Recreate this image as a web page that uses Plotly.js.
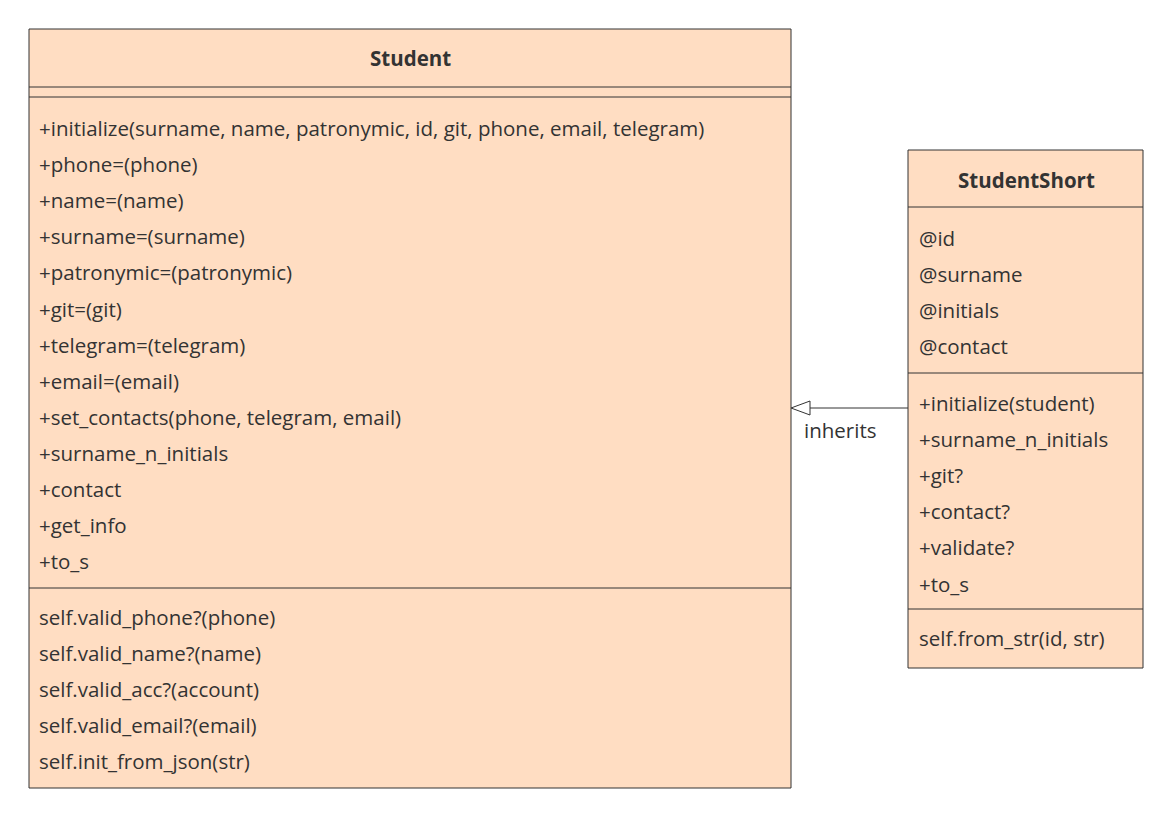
<!DOCTYPE html>
<html>
<head>
<meta charset="utf-8">
<script src="https://cdn.plot.ly/plotly-3.0.1.min.js"></script>
<style>html,body{margin:0;padding:0;background:#fff}</style>
</head>
<body>
<div id="chart" style="width:1172px;height:817px"></div>
<script>
var studentTitle = "Student";
var studentMethods = ["+initialize(surname, name, patronymic, id, git, phone, email, telegram)",
  "+phone=(phone)", "+name=(name)", "+surname=(surname)", "+patronymic=(patronymic)",
  "+git=(git)", "+telegram=(telegram)", "+email=(email)",
  "+set_contacts(phone, telegram, email)", "+surname_n_initials", "+contact",
  "+get_info", "+to_s"];
var studentStatic = ["self.valid_phone?(phone)", "self.valid_name?(name)",
  "self.valid_acc?(account)", "self.valid_email?(email)", "self.init_from_json(str)"];

var shortTitle = "StudentShort";
var shortAttrs = ["@id", "@surname", "@initials", "@contact"];
var shortMethods = ["+initialize(student)", "+surname_n_initials", "+git?",
  "+contact?", "+validate?", "+to_s"];
var shortStatic = ["self.from_str(id, str)"];

var relationLabel = "inherits";

var fill = "#FFDDC2", edge = "#333333", txt = "#333333";
var font = {family: "Open Sans, Arial, sans-serif", size: 20.5, color: txt};
var row = 36.1;

var shapes = [];
var annotations = [];

function box(x0, y0, x1, y1) {
  shapes.push({type: "rect", x0: x0, y0: y0, x1: x1, y1: y1,
    fillcolor: fill, line: {color: edge, width: 1}, layer: "below"});
}
function hline(x0, x1, y) {
  shapes.push({type: "line", x0: x0, x1: x1, y0: y, y1: y, line: {color: edge, width: 1}});
}
function lines(list, x, y0) {
  list.forEach(function (s, i) {
    annotations.push({text: s, x: x, y: y0 + i * row, xanchor: "left", yanchor: "middle",
      showarrow: false, font: font});
  });
}
function title(s, x, y) {
  annotations.push({text: "<b>" + s + "</b>", x: x, y: y, xanchor: "center", yanchor: "middle",
    showarrow: false, font: font});
}

// Student
box(29, 29, 791, 788);
hline(29, 791, 87);
hline(29, 791, 97);
hline(29, 791, 588);
title(studentTitle, 410, 58);
lines(studentMethods, 37, 128);
lines(studentStatic, 37, 617);

// StudentShort
box(908, 150, 1143, 668);
hline(908, 1143, 207);
hline(908, 1143, 373);
hline(908, 1143, 609);
title(shortTitle, 1026, 180);
lines(shortAttrs, 917, 238);
lines(shortMethods, 917, 403);
lines(shortStatic, 917, 638);

// inheritance arrow
shapes.push({type: "line", x0: 908, x1: 810, y0: 408, y1: 408, line: {color: edge, width: 1}});
shapes.push({type: "path", path: "M 791 408 L 810 401 L 810 415 Z",
  fillcolor: "#ffffff", line: {color: edge, width: 1}});
annotations.push({text: relationLabel, x: 840, y: 430, xanchor: "center", yanchor: "middle",
  showarrow: false, font: font});

var layout = {
  width: 1172, height: 817,
  margin: {l: 0, r: 0, t: 0, b: 0},
  paper_bgcolor: "#ffffff", plot_bgcolor: "#ffffff",
  xaxis: {range: [0, 1172], visible: false, fixedrange: true},
  yaxis: {range: [817, 0], visible: false, fixedrange: true},
  showlegend: false,
  shapes: shapes,
  annotations: annotations
};

Plotly.newPlot("chart", [], layout, {displayModeBar: false, staticPlot: true});
</script>
</body>
</html>
